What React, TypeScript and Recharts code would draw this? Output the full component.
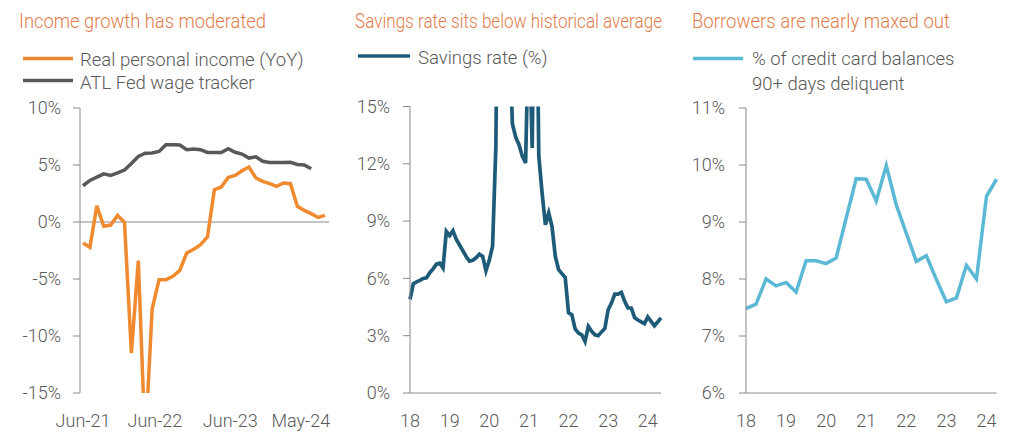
import React from 'react';
import { LineChart, Line, XAxis, YAxis, ReferenceLine } from 'recharts';

// ---------- Panel 1: income growth ----------
const incomeTickPositions = [0, 10.4, 21.3, 31.5];
const incomeTickLabels = ['Jun-21', 'Jun-22', 'Jun-23', 'May-24'];
const realIncome = [
  -1.84, -2.22, 1.43, -0.38, -0.27, 0.58, -0.03, -11.5, -3.39, -19.5, -7.63, -5.06,
  -5.06, -4.77, -4.24, -2.72, -2.4, -1.99, -1.32, 2.83, 3.07, 3.91, 4.09, 4.5,
  4.82, 3.86, 3.56, 3.36, 3.12, 3.42, 3.36, 1.37, 1.02, 0.73, 0.4, 0.58,
];
const wageTracker = [
  3.18, 3.65, 3.93, 4.22, 4.09, 4.3, 4.55, 5.13, 5.75, 6.03, 6.05, 6.19,
  6.78, 6.78, 6.75, 6.34, 6.4, 6.34, 6.1, 6.1, 6.1, 6.43, 6.12, 5.96,
  5.61, 5.72, 5.33, 5.22, 5.22, 5.22, 5.24, 5.05, 5.0, 4.67,
];
const incomeYTicks = [-15, -10, -5, 0, 5, 10];

// ---------- Panel 2: savings rate (monthly, Jan-2018 .. May-2024) ----------
const savingsRate = [
  4.9, 5.72, 5.82, 5.9, 6.0, 6.03, 6.3, 6.5, 6.75, 6.8, 6.55, 8.46,
  8.24, 8.5, 8.05, 7.75, 7.45, 7.15, 6.9, 6.95, 7.08, 7.27, 7.15, 6.4,
  6.95, 7.68, 12.9, 32.0, 24.5, 19.5, 19.0, 14.1, 13.4, 13.0, 12.4, 12.05,
  19.8, 12.83, 26.5, 12.4, 10.47, 8.81, 9.42, 8.72, 7.15, 6.46, 6.25, 6.05,
  4.2, 4.1, 3.35, 3.14, 3.05, 2.7, 3.49, 3.23, 3.05, 3.0, 3.2, 3.38,
  4.36, 4.71, 5.18, 5.18, 5.27, 4.8, 4.45, 4.45, 3.95, 3.82, 3.72, 3.63,
  3.98, 3.75, 3.52, 3.72, 3.93,
];
const savingsMonths = savingsRate.map(
  (_, k) => `${2018 + Math.floor(k / 12)}-${String((k % 12) + 1).padStart(2, '0')}`
);
const savingsTicks = ['2018-01', '2019-01', '2020-01', '2021-01', '2022-01', '2023-01', '2024-01'];
const savingsYTicks = [0, 3, 6, 9, 12, 15];

// ---------- Panel 3: credit card delinquency (quarterly, 2018Q1 .. 2024Q2) ----------
const creditDelinquent = [
  7.48, 7.56, 8.0, 7.88, 7.94, 7.77, 8.32, 8.32, 8.27, 8.37, 9.07, 9.76,
  9.75, 9.37, 9.99, 9.3, 8.8, 8.31, 8.41, 7.99, 7.6, 7.67, 8.24, 8.0,
  9.45, 9.75,
];
const creditQuarters = creditDelinquent.map(
  (_, k) => `${2018 + Math.floor(k / 4)}Q${(k % 4) + 1}`
);
const creditTicks = ['2018Q1', '2019Q1', '2020Q1', '2021Q1', '2022Q1', '2023Q1', '2024Q1'];
const creditYTicks = [6, 7, 8, 9, 10, 11];

// ---------- styles ----------
const FONT = 'Roboto, sans-serif';
const AXIS_GRAY = '#8a8a8a';
const TEXT_GRAY = '#595959';
const TITLE_COLOR = '#E27C4B';
const ORANGE = '#F08A2E';
const DARK_GRAY = '#595959';
const TEAL = '#1E5B78';
const LIGHT_BLUE = '#5CB9D6';

const tickStyle = { fill: TEXT_GRAY, fontSize: 18, fontFamily: FONT, fontWeight: 300 };

const incomeData = realIncome.map((v, i) => ({
  i,
  real: v,
  wage: i < wageTracker.length ? wageTracker[i] : undefined,
}));
const savingsData = savingsMonths.map((m, k) => ({ m, v: savingsRate[k] }));
const creditData = creditQuarters.map((q, k) => ({ q, v: creditDelinquent[k] }));

const pct = (v: number) => `${v}%`;
const yy = (v: string) => v.slice(2, 4);

export default function App() {
  return (
    <div style={{ position: 'absolute', left: 0, top: 0, width: 1016, height: 441, background: '#fff', fontFamily: FONT }}>
      {/* Panel 1 */}
      <div style={{ position: 'absolute', left: 0, top: 0 }}>
        <LineChart width={340} height={441} data={incomeData} margin={{ top: 108, right: 11, bottom: 18, left: 20 }}>
          <XAxis
            dataKey="i"
            type="number"
            domain={[0, 35]}
            ticks={incomeTickPositions}
            interval={0}
            tickFormatter={(v: number) => incomeTickLabels[incomeTickPositions.indexOf(v)] ?? ''}
            axisLine={false}
            tickLine={false}
            tickSize={0}
            tickMargin={21}
            padding={{ left: 3, right: 4 }}
            tick={tickStyle}
          />
          <YAxis
            width={60}
            domain={[-15, 10]}
            ticks={incomeYTicks}
            interval={0}
            allowDataOverflow
            tickFormatter={pct}
            axisLine={{ stroke: AXIS_GRAY }}
            tickLine={{ stroke: AXIS_GRAY }}
            tickSize={7}
            tickMargin={12}
            tick={tickStyle}
          />
          <ReferenceLine y={0} stroke={AXIS_GRAY} strokeWidth={1} ifOverflow="extendDomain" />
          <Line dataKey="wage" stroke={DARK_GRAY} strokeWidth={3.5} dot={false} isAnimationActive={false} connectNulls={false} />
          <Line dataKey="real" stroke={ORANGE} strokeWidth={3.5} dot={false} isAnimationActive={false} />
        </LineChart>
      </div>

      {/* Panel 2 */}
      <div style={{ position: 'absolute', left: 340, top: 0 }}>
        <LineChart width={340} height={441} data={savingsData} margin={{ top: 106.5, right: 19, bottom: 18, left: 10 }}>
          <XAxis
            dataKey="m"
            ticks={savingsTicks}
            interval={0}
            tickFormatter={yy}
            axisLine={{ stroke: AXIS_GRAY }}
            tickLine={false}
            tickSize={0}
            tickMargin={21}
            tick={tickStyle}
          />
          <YAxis
            width={60}
            domain={[0, 15]}
            ticks={savingsYTicks}
            interval={0}
            allowDataOverflow
            tickFormatter={pct}
            axisLine={{ stroke: AXIS_GRAY }}
            tickLine={{ stroke: AXIS_GRAY }}
            tickSize={7}
            tickMargin={13}
            tick={tickStyle}
          />
          <Line dataKey="v" stroke={TEAL} strokeWidth={3.7} dot={false} isAnimationActive={false} />
        </LineChart>
      </div>

      {/* Panel 3 */}
      <div style={{ position: 'absolute', left: 680, top: 0 }}>
        <LineChart width={336} height={441} data={creditData} margin={{ top: 108, right: 19.5, bottom: 18, left: 6 }}>
          <XAxis
            dataKey="q"
            ticks={creditTicks}
            interval={0}
            tickFormatter={yy}
            axisLine={{ stroke: AXIS_GRAY }}
            tickLine={false}
            tickSize={0}
            tickMargin={21}
            tick={tickStyle}
          />
          <YAxis
            width={60}
            domain={[6, 11]}
            ticks={creditYTicks}
            interval={0}
            allowDataOverflow
            tickFormatter={pct}
            axisLine={{ stroke: AXIS_GRAY }}
            tickLine={{ stroke: AXIS_GRAY }}
            tickSize={7}
            tickMargin={14}
            tick={tickStyle}
          />
          <Line dataKey="v" stroke={LIGHT_BLUE} strokeWidth={3.5} dot={false} isAnimationActive={false} />
        </LineChart>
      </div>

      {/* Titles and legends */}
      <svg width={1016} height={441} style={{ position: 'absolute', left: 0, top: 0, pointerEvents: 'none' }}>
        <g fontFamily={FONT} fontWeight={300}>
          <text x={19} y={28} fontSize={20} textLength={247} lengthAdjust="spacingAndGlyphs" fill={TITLE_COLOR}>Income growth has moderated</text>
          <text x={355} y={28} fontSize={20} textLength={307} lengthAdjust="spacingAndGlyphs" fill={TITLE_COLOR}>Savings rate sits below historical average</text>
          <text x={692} y={28} fontSize={20} textLength={258} lengthAdjust="spacingAndGlyphs" fill={TITLE_COLOR}>Borrowers are nearly maxed out</text>

          <line x1={23} x2={73} y1={58.5} y2={58.5} stroke={ORANGE} strokeWidth={3.5} />
          <text x={80} y={65.5} fontSize={18.5} fill={TEXT_GRAY}>Real personal income (YoY)</text>
          <line x1={23} x2={73} y1={80.5} y2={80.5} stroke={DARK_GRAY} strokeWidth={3.5} />
          <text x={80} y={89} fontSize={18.5} fill={TEXT_GRAY}>ATL Fed wage tracker</text>

          <line x1={358} x2={410} y1={56} y2={56} stroke={TEAL} strokeWidth={3.5} />
          <text x={418} y={63.5} fontSize={18.5} fill={TEXT_GRAY}>Savings rate (%)</text>

          <line x1={693} x2={743} y1={58.5} y2={58.5} stroke={LIGHT_BLUE} strokeWidth={3.5} />
          <text x={752} y={65} fontSize={18.5} fill={TEXT_GRAY}>% of credit card balances</text>
          <text x={752} y={90} fontSize={18.5} fill={TEXT_GRAY}>90+ days deliquent</text>
        </g>
      </svg>
    </div>
  );
}
